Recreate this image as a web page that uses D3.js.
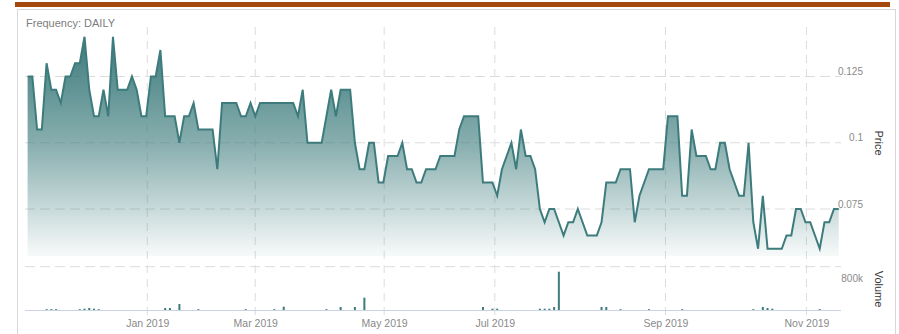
<!DOCTYPE html>
<html>
<head>
<meta charset="utf-8">
<script src="https://cdn.jsdelivr.net/npm/d3@7"></script>
<style>
body { margin: 0; background: #fff; }
svg { display: block; font-family: "Liberation Sans", Arial, sans-serif; }
</style>
</head>
<body>
<svg id="chart" width="899" height="334"></svg>
<script>
// daily closing price, one value per trading session (ordinal axis)
const price = [
  0.125, 0.125, 0.105, 0.105, 0.130, 0.120, 0.120, 0.115, 0.125, 0.125,
  0.130, 0.130, 0.140, 0.120, 0.110, 0.110, 0.120, 0.110, 0.140, 0.120,
  0.120, 0.120, 0.125, 0.120, 0.110, 0.110, 0.125, 0.125, 0.135, 0.110,
  0.110, 0.110, 0.100, 0.110, 0.110, 0.115, 0.105, 0.105, 0.105, 0.105,
  0.090, 0.115, 0.115, 0.115, 0.115, 0.110, 0.110, 0.115, 0.110, 0.115,
  0.115, 0.115, 0.115, 0.115, 0.115, 0.115, 0.115, 0.110, 0.120, 0.100,
  0.100, 0.100, 0.100, 0.110, 0.120, 0.110, 0.120, 0.120, 0.120, 0.100,
  0.090, 0.090, 0.100, 0.100, 0.085, 0.085, 0.095, 0.095, 0.095, 0.100,
  0.090, 0.090, 0.085, 0.085, 0.090, 0.090, 0.090, 0.095, 0.095, 0.095,
  0.095, 0.105, 0.110, 0.110, 0.110, 0.110, 0.085, 0.085, 0.085, 0.080,
  0.090, 0.095, 0.100, 0.090, 0.105, 0.095, 0.095, 0.090, 0.075, 0.070,
  0.075, 0.075, 0.070, 0.065, 0.070, 0.070, 0.075, 0.070, 0.065, 0.065,
  0.065, 0.070, 0.085, 0.085, 0.085, 0.090, 0.090, 0.090, 0.070, 0.080,
  0.085, 0.090, 0.090, 0.090, 0.090, 0.110, 0.110, 0.110, 0.080, 0.080,
  0.105, 0.095, 0.095, 0.095, 0.090, 0.090, 0.100, 0.100, 0.090, 0.085,
  0.080, 0.080, 0.100, 0.070, 0.060, 0.080, 0.060, 0.060, 0.060, 0.060,
  0.065, 0.065, 0.075, 0.075, 0.070, 0.070, 0.065, 0.060, 0.070, 0.070,
  0.075, 0.075
];

// sessions with traded volume, and the volume traded
const volSession = [4, 5, 6, 11, 12, 13, 14, 15, 29, 30, 32, 36, 46, 52, 54, 63, 66, 69, 71,
  96, 98, 99, 108, 109, 110, 111, 112, 121, 122, 125, 131, 138, 153, 155, 156, 157, 167];
const volValue = [25000, 25000, 25000, 25000, 40000, 60000, 40000, 25000, 60000, 60000, 180000,
  25000, 25000, 25000, 100000, 25000, 90000, 90000, 370000,
  90000, 40000, 40000, 40000, 40000, 40000, 90000, 1150000, 90000, 90000, 25000, 25000, 25000,
  25000, 90000, 60000, 40000, 25000];

const priceTicks = [0.075, 0.1, 0.125];
const volTicks = [800000];
const monthSession = [25.23, 47.99, 75.17, 98.5, 134.48, 164.2];
const monthLabels = ["Jan 2019", "Mar 2019", "May 2019", "Jul 2019", "Sep 2019", "Nov 2019"];

const LINE_COR = "#3d7b7c";
const GRID_COR = "#dcdcdc";
const LABEL_COR = "#8a8a8a";

const svg = d3.select("#chart");

// frame and top bar
svg.append("rect").attr("x", 17.5).attr("y", 9.5).attr("width", 878).attr("height", 340)
  .attr("fill", "#fff").attr("stroke", "#d8d8d8");
svg.append("rect").attr("x", 15).attr("y", 2).attr("width", 875).attr("height", 5).attr("fill", "#a5480e");

const x = d3.scaleLinear().domain([0, price.length - 1]).range([27.6, 838.7]);
const yP = d3.scaleLinear().domain([0.075, 0.125]).range([209, 76.5]);
const yV = d3.scaleLinear().domain([0, 1300000]).range([310, 266.7]);
const PANE_BOTTOM = 256;
const GRID_X0 = 25, GRID_X1 = 841;

// vertical grid lines at month starts
svg.append("g").selectAll("line").data(monthSession).join("line")
  .attr("x1", d => x(d)).attr("x2", d => x(d))
  .attr("y1", 27).attr("y2", 318)
  .attr("stroke", GRID_COR).attr("stroke-dasharray", "8,6");

// horizontal price grid
svg.append("g").selectAll("line").data(priceTicks).join("line")
  .attr("x1", GRID_X0).attr("x2", GRID_X1)
  .attr("y1", d => yP(d)).attr("y2", d => yP(d))
  .attr("stroke", GRID_COR).attr("stroke-dasharray", "10,5");

// volume pane top
svg.append("line").attr("x1", GRID_X0).attr("x2", GRID_X1)
  .attr("y1", yV.range()[1]).attr("y2", yV.range()[1])
  .attr("stroke", GRID_COR).attr("stroke-dasharray", "10,5");

// gradient for area
const grad = svg.append("defs").append("linearGradient")
  .attr("id", "fillGrad").attr("gradientUnits", "userSpaceOnUse")
  .attr("x1", 0).attr("y1", 37).attr("x2", 0).attr("y2", PANE_BOTTOM);
grad.append("stop").attr("offset", 0).attr("stop-color", LINE_COR).attr("stop-opacity", 1);
grad.append("stop").attr("offset", 0.5).attr("stop-color", LINE_COR).attr("stop-opacity", 0.6);
grad.append("stop").attr("offset", 1).attr("stop-color", LINE_COR).attr("stop-opacity", 0.04);

const area = d3.area().x((d, i) => x(i)).y0(PANE_BOTTOM).y1(d => yP(d));
const line = d3.line().x((d, i) => x(i)).y(d => yP(d));

svg.append("path").datum(price).attr("d", area).attr("fill", "url(#fillGrad)");
svg.append("path").datum(price).attr("d", line)
  .attr("fill", "none").attr("stroke", LINE_COR).attr("stroke-width", 2);

// volume baseline and bars
svg.append("line").attr("x1", GRID_X0).attr("x2", GRID_X1)
  .attr("y1", yV(0) + 0.5).attr("y2", yV(0) + 0.5).attr("stroke", "#c9d3e3");
svg.append("g").selectAll("rect").data(volSession).join("rect")
  .attr("x", d => x(d) - 1)
  .attr("width", 2)
  .attr("y", (d, i) => yV(volValue[i]))
  .attr("height", (d, i) => yV(0) - yV(volValue[i]))
  .attr("fill", LINE_COR);

// axis labels
const priceAxis = d3.axisRight(yP).tickValues(priceTicks).tickSize(0).tickPadding(0)
  .tickFormat(d3.format("~g"));
svg.append("g").attr("transform", "translate(863,-5)").call(priceAxis)
  .call(g => g.select(".domain").remove())
  .selectAll("text").attr("text-anchor", "end").attr("fill", LABEL_COR)
  .attr("font-size", 10).attr("font-family", null);

const volAxis = d3.axisRight(yV).tickValues(volTicks).tickSize(0).tickPadding(0)
  .tickFormat(d => d / 1000 + "k");
svg.append("g").attr("transform", "translate(863,-5)").call(volAxis)
  .call(g => g.select(".domain").remove())
  .selectAll("text").attr("text-anchor", "end").attr("fill", LABEL_COR)
  .attr("font-size", 10).attr("font-family", null);

const xAxis = d3.axisBottom(x).tickValues(monthSession).tickSize(0).tickPadding(0)
  .tickFormat((d, i) => monthLabels[i]);
svg.append("g").attr("transform", "translate(0,320)").call(xAxis)
  .call(g => g.select(".domain").remove())
  .selectAll("text").attr("fill", LABEL_COR)
  .attr("font-size", 10.5).attr("font-family", null);

// titles
svg.append("text").attr("x", 26).attr("y", 27).text("Frequency: DAILY")
  .attr("font-size", 11).attr("fill", "#7d7d7d");
svg.append("text").attr("transform", "translate(875,143) rotate(90)")
  .attr("text-anchor", "middle").attr("font-size", 11).attr("fill", "#333").text("Price");
svg.append("text").attr("transform", "translate(875,289) rotate(90)")
  .attr("text-anchor", "middle").attr("font-size", 11).attr("fill", "#333").text("Volume");
</script>
</body>
</html>
